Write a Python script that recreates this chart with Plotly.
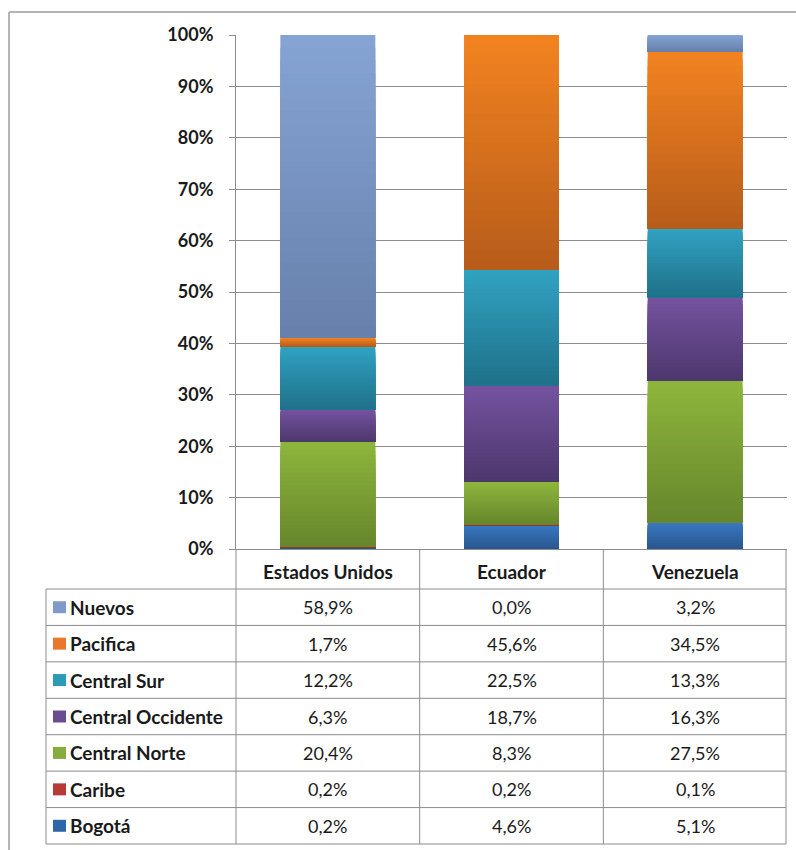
import plotly.graph_objects as go

# ---- data -------------------------------------------------------------
countries = ["Estados Unidos", "Ecuador", "Venezuela"]

# stacking order, bottom to top
regions = ["Bogotá", "Caribe", "Central Norte", "Central Occidente",
           "Central Sur", "Pacifica", "Nuevos"]

bogota = [0.2, 4.6, 5.1]
caribe = [0.2, 0.2, 0.1]
central_norte = [20.4, 8.3, 27.5]
central_occidente = [6.3, 18.7, 16.3]
central_sur = [12.2, 22.5, 13.3]
pacifica = [1.7, 45.6, 34.5]
nuevos = [58.9, 0.0, 3.2]

series = [bogota, caribe, central_norte, central_occidente,
          central_sur, pacifica, nuevos]

y_ticks = [0, 10, 20, 30, 40, 50, 60, 70, 80, 90, 100]

# ---- styling ----------------------------------------------------------
# (top colour, bottom colour) of each segment's vertical gradient
gradients = {
    "Bogotá": ("#3a78c0", "#28578f"),
    "Caribe": ("#c84a44", "#9a302c"),
    "Central Norte": ("#8eb63c", "#66862c"),
    "Central Occidente": ("#7553a0", "#4c376c"),
    "Central Sur": ("#31a2c2", "#1f7189"),
    "Pacifica": ("#f38320", "#b65c1a"),
    "Nuevos": ("#86a4d4", "#6780ab"),
}
key_colors = {
    "Bogotá": "#2e67a8",
    "Caribe": "#b83a36",
    "Central Norte": "#86ac3e",
    "Central Occidente": "#6a4c93",
    "Central Sur": "#2c9bb8",
    "Pacifica": "#e8782b",
    "Nuevos": "#7f9acb",
}
FONT = "Lato, Carlito, Calibri, sans-serif"
TXT = "#1a1a1a"
GRID = "#8c8c8c"

W_FIG, H_FIG = 796, 850
L, R, T, B = 236, 9, 35, 301
PW = W_FIG - L - R
PH = H_FIG - T - B
BAR_W = 0.517
BANDS = 24


def hex_rgb(h):
    h = h.lstrip("#")
    return tuple(int(h[i:i + 2], 16) for i in (0, 2, 4))


def mix(c_top, c_bot, t):
    a, b = hex_rgb(c_top), hex_rgb(c_bot)
    return "rgb(%d,%d,%d)" % tuple(round(b[i] + (a[i] - b[i]) * t) for i in range(3))


def px_x(px):
    return (px - L) / PW


def px_y(py):
    return (H_FIG - B - py) / PH


fig = go.Figure()

# 100 % stacked columns; every segment is shaded top-to-bottom by drawing
# nested rectangles that all start at the segment base and get shorter,
# so each band shows through only where the next one does not cover it.
totals = [sum(s[i] for s in series) for i in range(len(countries))]
running = [0.0] * len(countries)
for name, vals in zip(regions, series):
    top_c, bot_c = gradients[name]
    xs, bases, hs, cols = [], [], [], []
    for i, c in enumerate(countries):
        share = vals[i] / totals[i]
        start = running[i]
        if share > 0:
            step = share / BANDS
            for k in range(BANDS):
                xs.append(c)
                bases.append(start)
                hs.append(share - k * step)
                cols.append(mix(top_c, bot_c, 1 - (k + 0.5) / BANDS))
        running[i] = start + share
    fig.add_trace(go.Bar(
        x=xs, y=hs, base=bases, name=name, width=BAR_W,
        marker=dict(color=cols, line=dict(width=0)),
        showlegend=False, hoverinfo="skip",
    ))

# ---- data table under the plot ---------------------------------------
row_h = (844 - 589) / len(regions)
table_top = 589
shapes = []
line = dict(color=GRID, width=1)

for k in range(len(regions) + 1):
    y = px_y(table_top + k * row_h)
    shapes.append(dict(type="line", xref="paper", yref="paper",
                       x0=px_x(46), x1=px_x(786), y0=y, y1=y, line=line))

col_edges = [L + PW * j / len(countries) for j in range(len(countries))] + [786]
for xe in col_edges:
    shapes.append(dict(type="line", xref="paper", yref="paper",
                       x0=px_x(xe), x1=px_x(xe),
                       y0=px_y(H_FIG - B), y1=px_y(844), line=line))
shapes.append(dict(type="line", xref="paper", yref="paper",
                   x0=px_x(46), x1=px_x(46),
                   y0=px_y(table_top), y1=px_y(844), line=line))

# chart-area frame
frame = dict(color="#b4b4b4", width=2)
shapes.append(dict(type="line", xref="paper", yref="paper",
                   x0=px_x(9), x1=px_x(W_FIG + 5), y0=px_y(12), y1=px_y(12), line=frame))
shapes.append(dict(type="line", xref="paper", yref="paper",
                   x0=px_x(9), x1=px_x(9), y0=px_y(12), y1=px_y(H_FIG + 5), line=frame))

label_font = dict(family=FONT, size=19, color=TXT, weight="bold")
value_font = dict(family=FONT, size=18, color=TXT)

annotations = []
for c in countries:
    annotations.append(dict(x=c, xref="x", y=px_y(571), yref="paper",
                            xanchor="center", yanchor="middle",
                            text=c, showarrow=False, font=label_font))

table_rows = list(zip(regions, series))[::-1]
for k, (name, vals) in enumerate(table_rows):
    yc = table_top + (k + 0.5) * row_h
    shapes.append(dict(type="rect", xref="paper", yref="paper",
                       x0=px_x(53), x1=px_x(66),
                       y0=px_y(yc + 6), y1=px_y(yc - 6),
                       fillcolor=key_colors[name], line=dict(width=0)))
    annotations.append(dict(x=px_x(68), xref="paper", y=px_y(yc), yref="paper",
                            xanchor="left", yanchor="middle",
                            text=name, showarrow=False, font=label_font))
    for i, c in enumerate(countries):
        annotations.append(dict(x=c, xref="x", y=px_y(yc), yref="paper",
                                xanchor="center", yanchor="middle",
                                text=("%.1f%%" % vals[i]).replace(".", ","),
                                showarrow=False, font=value_font))

fig.update_layout(
    width=W_FIG, height=H_FIG,
    margin=dict(l=L, r=R, t=T, b=B),
    paper_bgcolor="white", plot_bgcolor="white",
    barmode="overlay",
    shapes=shapes, annotations=annotations,
    xaxis=dict(range=[-0.5, 2.5], showticklabels=False, ticks="",
               showgrid=False, showline=True, linecolor=GRID, linewidth=1,
               zeroline=False, fixedrange=True),
    yaxis=dict(range=[0, 1], tickvals=[v / 100 for v in y_ticks],
               ticktext=["%d%%" % v for v in y_ticks],
               showgrid=True, gridcolor=GRID, gridwidth=1,
               showline=True, linecolor=GRID, linewidth=1,
               ticks="outside", ticklen=6, tickcolor=GRID,
               ticklabelstandoff=12, zeroline=False,
               tickfont=dict(family=FONT, size=18, color=TXT, weight="bold")),
)

fig.write_html("out.html")
